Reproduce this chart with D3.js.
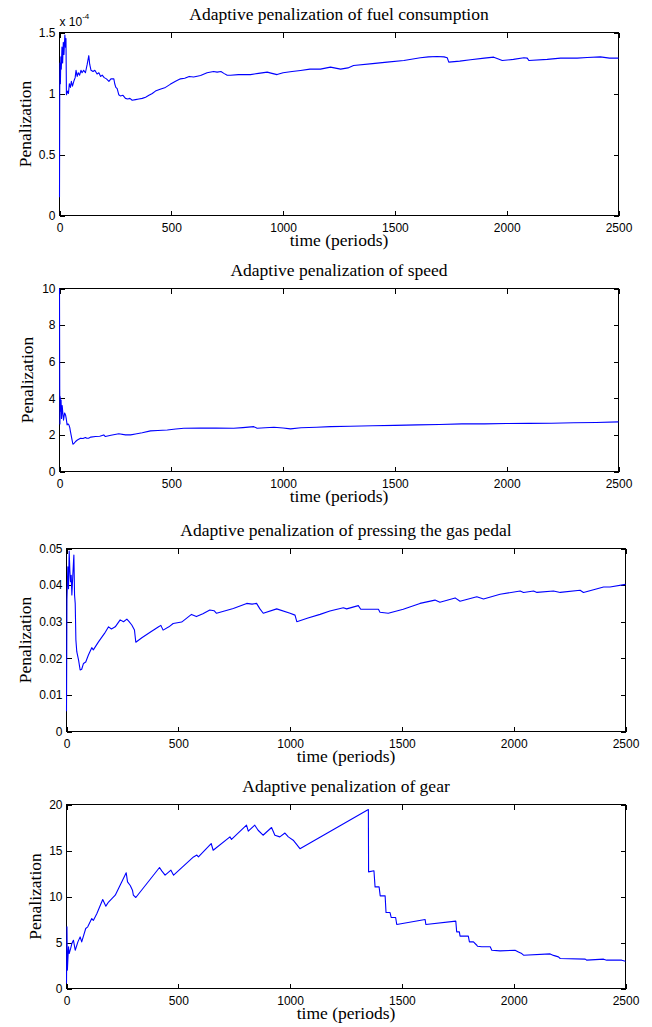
<!DOCTYPE html>
<html>
<head>
<meta charset="utf-8">
<script src="https://cdn.jsdelivr.net/npm/d3@7"></script>
<style>
  html, body { margin: 0; padding: 0; background: #fff; }
  svg { display: block; }
  .serif { font-family: "Liberation Serif", "Times New Roman", serif; font-size: 17.5px; fill: #000; }
  .tick text { font-family: "Liberation Sans", Arial, sans-serif; font-size: 12px; fill: #000; }
  .tick line { stroke: #000; }
</style>
</head>
<body>
<svg id="chart" width="652" height="1027"></svg>
<script>
// Shared time axis (periods)
const xTicks = [0, 500, 1000, 1500, 2000, 2500];

// Fuel consumption penalization, values in units of 1e-4
const fuelTicks = [0, 0.5, 1, 1.5];
const fuelData = [
  [0,0.15],[1,1.0],[2,1.25],[4,1.08],[6,1.3],[8,1.2],[11,1.38],[14,1.25],[17,1.42],[20,1.32],
  [24,1.48],[27,1.38],[29,1.45],[31,0.99],[36,1.02],[40,1.0],[44,1.08],[49,1.05],[53,1.1],[58,1.06],
  [64,1.1],[70,1.13],[74,1.19],[79,1.14],[84,1.17],[90,1.15],[96,1.19],[101,1.17],[108,1.19],[116,1.17],
  [124,1.24],[131,1.31],[135,1.24],[141,1.19],[150,1.18],[158,1.19],[168,1.16],[176,1.17],[184,1.14],[191,1.15],
  [200,1.13],[210,1.12],[221,1.10],[230,1.12],[243,1.12],[247,1.08],[252,1.05],[258,1.04],[265,0.99],[272,0.98],
  [284,0.985],[295,0.96],[305,0.955],[315,0.96],[325,0.945],[340,0.95],[355,0.955],[370,0.96],[385,0.97],[400,0.985],
  [415,1.0],[429,1.02],[450,1.035],[474,1.05],[495,1.075],[519,1.10],[541,1.12],[560,1.125],[580,1.14],[600,1.135],
  [631,1.148],[660,1.17],[689,1.18],[705,1.175],[722,1.18],[735,1.165],[750,1.15],[765,1.15],[800,1.155],[854,1.155],
  [890,1.165],[929,1.175],[950,1.165],[973,1.155],[1000,1.17],[1040,1.18],[1078,1.189],[1120,1.2],[1167,1.2],[1212,1.216],
  [1257,1.20],[1290,1.21],[1315,1.23],[1400,1.245],[1465,1.257],[1540,1.27],[1614,1.293],[1650,1.30],[1689,1.303],[1720,1.30],
  [1734,1.293],[1741,1.257],[1790,1.265],[1838,1.276],[1900,1.29],[1942,1.298],[1960,1.285],[1980,1.27],[2030,1.28],[2077,1.293],
  [2092,1.29],[2099,1.27],[2181,1.28],[2241,1.29],[2315,1.29],[2360,1.295],[2419,1.30],[2460,1.29],[2500,1.29]
];

// Speed penalization
const speedTicks = [0, 2, 4, 6, 8, 10];
const speedData = [
  [0,10],[1,4.5],[2,2.6],[3,4.1],[5,3.3],[7,3.9],[9,2.9],[12,3.6],[15,3.18],[18,2.8],
  [20,2.98],[23,3.2],[27,3.09],[30,2.9],[34,2.55],[38,2.6],[42,2.55],[46,2.4],[49,2.18],[55,1.8],
  [60,1.49],[66,1.55],[72,1.64],[80,1.72],[94,1.82],[105,1.8],[116,1.86],[122,1.82],[130,1.82],[140,1.88],
  [161,1.91],[180,1.93],[198,2.0],[205,1.91],[230,1.98],[265,2.06],[295,2.0],[318,2.0],[340,2.05],[370,2.12],
  [407,2.22],[440,2.24],[482,2.27],[520,2.32],[556,2.36],[631,2.38],[700,2.37],[779,2.36],[820,2.4],[869,2.45],
  [884,2.36],[920,2.39],[959,2.42],[1000,2.38],[1033,2.33],[1080,2.39],[1150,2.42],[1212,2.45],[1300,2.47],[1400,2.5],
  [1500,2.52],[1600,2.55],[1700,2.57],[1800,2.6],[1900,2.6],[2000,2.62],[2100,2.63],[2200,2.64],[2300,2.66],[2400,2.68],
  [2500,2.71]
];

// Gas pedal penalization
const gasTicks = [0, 0.01, 0.02, 0.03, 0.04, 0.05];
const gasData = [
  [0,0.0055],[2,0.036],[6,0.045],[9,0.039],[12,0.0493],[15,0.044],[18,0.0409],[21,0.0427],[24,0.0373],[28,0.0424],
  [31,0.046],[33,0.0482],[36,0.0373],[39,0.035],[42,0.025],[46,0.0218],[54,0.0195],[61,0.0168],[68,0.017],[76,0.0186],
  [86,0.019],[98,0.0209],[113,0.0229],[120,0.0223],[143,0.0245],[170,0.0268],[188,0.0286],[201,0.028],[218,0.0286],[240,0.0305],
  [255,0.030],[270,0.0307],[280,0.030],[292,0.0291],[304,0.0277],[310,0.0244],[337,0.0256],[374,0.0271],[412,0.0286],[422,0.029],
  [432,0.0277],[458,0.0286],[477,0.0295],[515,0.0299],[559,0.032],[581,0.0314],[610,0.0322],[641,0.0332],[660,0.033],[671,0.0323],
  [746,0.0336],[806,0.035],[830,0.0348],[850,0.035],[865,0.0335],[880,0.0323],[940,0.0335],[1000,0.0323],[1022,0.0318],[1030,0.030],
  [1080,0.031],[1134,0.032],[1178,0.0329],[1238,0.0338],[1253,0.0335],[1305,0.0344],[1316,0.0334],[1395,0.0334],[1402,0.0326],[1439,0.0323],
  [1506,0.0334],[1581,0.035],[1648,0.0359],[1670,0.0353],[1738,0.0365],[1760,0.0356],[1835,0.0368],[1865,0.0362],[1939,0.0375],[2029,0.0384],
  [2044,0.038],[2089,0.0384],[2104,0.038],[2178,0.0384],[2208,0.038],[2297,0.0386],[2312,0.038],[2402,0.0395],[2431,0.0395],[2500,0.0402]
];

// Gear penalization
const gearTicks = [0, 5, 10, 15, 20];
const gearData = [
  [0,0.54],[2,6.7],[4,2.0],[6,3.08],[9,4.52],[12,3.8],[18,4.3],[24,4.89],[31,5.25],[39,4.16],
  [51,5.07],[61,5.61],[68,5.07],[86,6.52],[95,6.7],[113,7.6],[120,7.4],[136,8.15],[162,9.67],[176,8.95],
  [188,9.4],[203,9.78],[218,10.14],[267,12.57],[273,11.59],[285,11.2],[295,10.69],[299,10.14],[310,9.89],[416,13.15],
  [426,12.79],[441,12.32],[467,12.86],[479,12.32],[568,14.3],[583,14.5],[590,14.3],[647,15.76],[656,15.03],[731,16.48],
  [738,16.2],[805,17.75],[813,17.1],[842,17.75],[857,17.2],[879,16.66],[917,17.5],[932,16.66],[954,16.48],[977,16.9],
  [992,16.48],[1014,16.12],[1044,15.2],[1350,19.46],[1351,12.68],[1375,12.79],[1380,11.05],[1398,11.05],[1403,10.07],[1425,10.07],
  [1429,8.26],[1447,8.26],[1452,7.72],[1472,7.72],[1477,6.96],[1604,7.5],[1607,6.96],[1741,7.32],[1745,6.16],[1757,6.16],
  [1760,5.69],[1797,5.69],[1802,5.07],[1820,5.07],[1835,4.7],[1838,4.6],[1857,4.53],[1895,4.53],[1902,4.16],[1939,4.09],
  [2006,4.16],[2021,3.98],[2036,3.8],[2044,3.62],[2163,3.76],[2178,3.6],[2200,3.44],[2208,3.26],[2320,3.19],[2327,3.08],
  [2402,3.19],[2416,3.08],[2483,3.08],[2500,2.97]
];

const titles = [
  "Adaptive penalization of fuel consumption",
  "Adaptive penalization of speed",
  "Adaptive penalization of pressing the gas pedal",
  "Adaptive penalization of gear"
];

// Layout of the four stacked axes boxes
const panels = [
  { title: titles[0], data: fuelData,  ticks: fuelTicks,  domain: [0, 1.5],  box: { l: 59.5, r: 618.5, t: 32.5,  b: 215.5 }, ylabX: 30.5, exponent: "-4" },
  { title: titles[1], data: speedData, ticks: speedTicks, domain: [0, 10],   box: { l: 59.5, r: 618.5, t: 288.5, b: 471.5 }, ylabX: 33 },
  { title: titles[2], data: gasData,   ticks: gasTicks,   domain: [0, 0.05], box: { l: 66.5, r: 625.5, t: 548.5, b: 731.5 }, ylabX: 30.5 },
  { title: titles[3], data: gearData,  ticks: gearTicks,  domain: [0, 20],   box: { l: 66.5, r: 625.5, t: 804.5, b: 988.5 }, ylabX: 40.5 }
];

const svg = d3.select("#chart");
svg.append("rect").attr("width", 652).attr("height", 1027).attr("fill", "#fff");

panels.forEach((p, i) => {
  const B = p.box;
  const x = d3.scaleLinear().domain([0, 2500]).range([B.l, B.r]);
  const y = d3.scaleLinear().domain(p.domain).range([B.b, B.t]);
  const g = svg.append("g");

  const clipId = "clip" + i;
  svg.append("clipPath").attr("id", clipId)
    .append("rect").attr("x", B.l - 1).attr("y", B.t - 1).attr("width", B.r - B.l + 2).attr("height", B.b - B.t + 2);

  // axes with inward ticks on all four sides
  const fmt = d => String(d);
  const bottom = g.append("g").attr("transform", `translate(0,${B.b})`)
    .call(d3.axisBottom(x).tickValues(xTicks).tickFormat(fmt).tickSizeInner(-5).tickSizeOuter(0).tickPadding(8));
  const top = g.append("g").attr("transform", `translate(0,${B.t})`)
    .call(d3.axisTop(x).tickValues(xTicks).tickFormat("").tickSizeInner(-5).tickSizeOuter(0));
  const left = g.append("g").attr("transform", `translate(${B.l},0)`)
    .call(d3.axisLeft(y).tickValues(p.ticks).tickFormat(fmt).tickSizeInner(-5).tickSizeOuter(0).tickPadding(4));
  const right = g.append("g").attr("transform", `translate(${B.r},0)`)
    .call(d3.axisRight(y).tickValues(p.ticks).tickFormat("").tickSizeInner(-5).tickSizeOuter(0));
  [bottom, top, left, right].forEach(a => {
    a.select(".domain").remove();
    a.attr("font-family", null).attr("font-size", null);
    a.selectAll(".tick line").attr("shape-rendering", "crispEdges");
  });

  // frame
  g.append("rect")
    .attr("x", B.l).attr("y", B.t)
    .attr("width", B.r - B.l).attr("height", B.b - B.t)
    .attr("fill", "none").attr("stroke", "#000").attr("stroke-width", 1)
    .attr("shape-rendering", "crispEdges");

  // data line, drawn over the frame
  g.append("path")
    .datum(p.data)
    .attr("clip-path", `url(#${clipId})`)
    .attr("fill", "none")
    .attr("stroke", "#0000ff")
    .attr("stroke-width", 1.1)
    .attr("stroke-linejoin", "round")
    .attr("d", d3.line().x(d => x(d[0])).y(d => y(d[1])));

  // title
  g.append("text").attr("class", "serif")
    .attr("x", (B.l + B.r) / 2).attr("y", B.t - 12.5)
    .attr("text-anchor", "middle")
    .text(p.title);

  // x label
  g.append("text").attr("class", "serif")
    .attr("x", (B.l + B.r) / 2).attr("y", B.b + 30.5)
    .attr("text-anchor", "middle")
    .text("time (periods)");

  // y label
  g.append("text").attr("class", "serif")
    .attr("transform", `translate(${p.ylabX},${(B.t + B.b) / 2}) rotate(-90)`)
    .attr("text-anchor", "middle")
    .text("Penalization");

  // exponent multiplier
  if (p.exponent) {
    const t = g.append("text")
      .attr("x", B.l).attr("y", B.t - 7)
      .attr("font-family", "'Liberation Sans', Arial, sans-serif")
      .attr("font-size", 12).attr("fill", "#000");
    t.append("tspan").text("x 10");
    t.append("tspan").attr("dy", -7).attr("font-size", 8).text(p.exponent);
  }
});
</script>
</body>
</html>
